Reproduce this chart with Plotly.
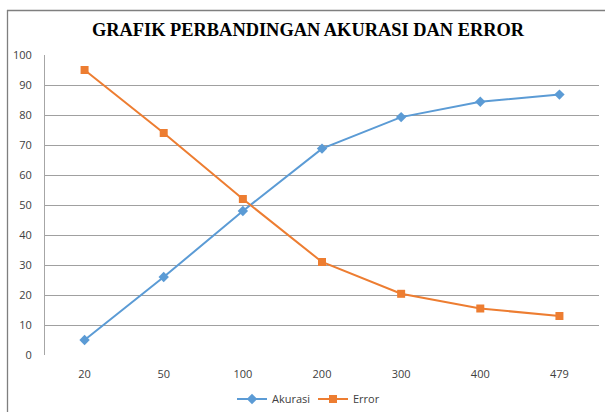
import plotly.graph_objects as go

categories = ["20", "50", "100", "200", "300", "400", "479"]
akurasi = [5, 26, 48, 68.8, 79.3, 84.4, 86.8]
error = [95, 74, 52, 31, 20.4, 15.5, 13]
y_ticks = [0, 10, 20, 30, 40, 50, 60, 70, 80, 90, 100]

fig = go.Figure()
fig.add_trace(go.Scatter(
    x=categories, y=akurasi, name="Akurasi", mode="lines+markers",
    line=dict(color="#5B9BD5", width=2),
    marker=dict(symbol="diamond", size=8, color="#5B9BD5"),
))
fig.add_trace(go.Scatter(
    x=categories, y=error, name="Error", mode="lines+markers",
    line=dict(color="#ED7D31", width=2),
    marker=dict(symbol="square", size=8, color="#ED7D31"),
))

L, R, T, B = 45, 6, 55, 57
W, H = 605, 412
pw, ph = W - L - R, H - T - B

fig.update_layout(
    width=W, height=H,
    margin=dict(l=L, r=R, t=T, b=B, autoexpand=False),
    paper_bgcolor="white", plot_bgcolor="white",
    title=dict(text="<b>GRAFIK PERBANDINGAN AKURASI DAN ERROR</b>",
               x=(308 - L) / pw, xref="paper", xanchor="center",
               y=1 - 30 / H, yref="container", yanchor="middle",
               font=dict(family="Liberation Serif", size=18.4, color="black")),
    font=dict(family="Open Sans", size=11, color="#404040"),
    xaxis=dict(type="category", range=[-0.5, 6.5], showgrid=False,
               ticks="outside", ticklen=9, tickcolor="rgba(0,0,0,0)",
               showline=False, zeroline=False, automargin=False,
               tickfont=dict(family="Open Sans", size=11, color="#404040")),
    yaxis=dict(range=[0, 100], tickvals=y_ticks, showgrid=True,
               gridcolor="#A0A0A0", gridwidth=1, zeroline=False,
               showline=True, linecolor="#A6A6A6", linewidth=1,
               ticks="outside", ticklen=10, tickcolor="rgba(0,0,0,0)",
               automargin=False,
               tickfont=dict(family="Open Sans", size=11, color="#404040")),
    legend=dict(orientation="h", x=(313 - L) / pw, xanchor="center",
                y=-(399 - (T + ph)) / ph, yanchor="middle",
                font=dict(family="Open Sans", size=11, color="#404040"),
                itemwidth=30, entrywidth=36, entrywidthmode="pixels"),
    showlegend=True,
)

px = lambda p: (p - L) / pw
py = lambda p: 1 - (p - T) / ph
border = dict(color="#7F7F7F", width=1.3)
fig.add_shape(type="line", xref="paper", yref="paper", layer="above",
              x0=px(7), x1=px(W + 2), y0=py(10.5), y1=py(10.5), line=border)
fig.add_shape(type="line", xref="paper", yref="paper", layer="above",
              x0=px(7.5), x1=px(7.5), y0=py(10), y1=py(H + 2), line=border)

fig.write_html("out.html", config={"displayModeBar": False},
               post_script="document.body.style.margin='0';document.body.style.overflow='hidden';")
